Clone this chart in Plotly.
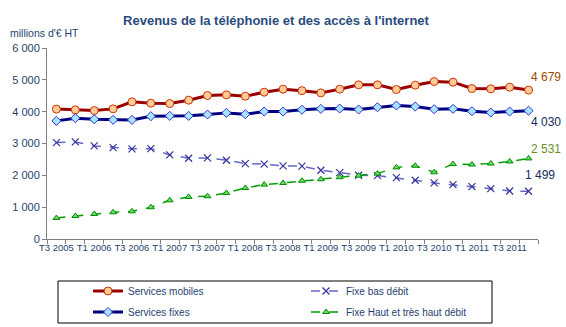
import plotly.graph_objects as go

quarters = ["T3 2005", "T4 2005", "T1 2006", "T2 2006", "T3 2006", "T4 2006",
            "T1 2007", "T2 2007", "T3 2007", "T4 2007", "T1 2008", "T2 2008",
            "T3 2008", "T4 2008", "T1 2009", "T2 2009", "T3 2009", "T4 2009",
            "T1 2010", "T2 2010", "T3 2010", "T4 2010", "T1 2011", "T2 2011",
            "T3 2011", "T4 2011"]

services_mobiles = [4080, 4057, 4035, 4088, 4308, 4266, 4255, 4361, 4507, 4528, 4486, 4612,
                    4706, 4660, 4591, 4706, 4843, 4843, 4696, 4832, 4947, 4926, 4727, 4717,
                    4769, 4679]
services_fixes = [3711, 3795, 3763, 3742, 3742, 3857, 3868, 3868, 3910, 3962, 3920, 4004,
                  4004, 4060, 4088, 4099, 4067, 4140, 4193, 4161, 4077, 4088, 4015, 3973,
                  4004, 4030]
fixe_bas_debit = [3029, 3050, 2925, 2872, 2830, 2841, 2642, 2537, 2547, 2475, 2370, 2350,
                  2295, 2290, 2160, 2086, 2002, 1991, 1928, 1845, 1761, 1708, 1645, 1582,
                  1509, 1499]
fixe_haut_debit = [660, 723, 786, 839, 870, 996, 1216, 1321, 1342, 1447, 1604, 1709,
                   1761, 1830, 1877, 1940, 1991, 2054, 2250, 2300, 2097, 2355, 2340, 2370,
                   2435, 2531]

end_labels = ["4 679", "4 030", "2 531", "1 499"]
y_ticks = [0, 1000, 2000, 3000, 4000, 5000, 6000]

xs = list(range(len(quarters)))
label_idx = xs[::2]
label_txt = [quarters[i] for i in label_idx]

TXT = "#1F3F6F"
FONT = "Liberation Sans, Arial, sans-serif"

W, H = 566, 327
ml, mr, mt, mb = 47, 28, 48, 88
pw, ph = W - ml - mr, H - mt - mb


def px_x(p):
    return (p - ml) / pw


def px_y(p):
    return (H - mb - p) / ph


fig = go.Figure()
fig.add_trace(go.Scatter(
    x=xs, y=services_mobiles, name="Services mobiles", mode="lines+markers", legend="legend",
    line=dict(color="#990000", width=3),
    marker=dict(symbol="circle", size=8, color="#FFCC99", line=dict(color="#CC3300", width=1))))
fig.add_trace(go.Scatter(
    x=xs, y=fixe_bas_debit, name="Fixe bas débit", mode="lines+markers", legend="legend2",
    line=dict(color="#6666CC", width=1.5, dash="dash"),
    marker=dict(symbol="x-thin-open", size=7, color="#333399", line=dict(color="#333399", width=1.2))))
fig.add_trace(go.Scatter(
    x=xs, y=services_fixes, name="Services fixes", mode="lines+markers", legend="legend3",
    line=dict(color="#000080", width=3),
    marker=dict(symbol="diamond", size=7, color="#A6E4FF", line=dict(color="#3333CC", width=1))))
fig.add_trace(go.Scatter(
    x=xs, y=fixe_haut_debit, name="Fixe Haut et très haut débit", mode="lines+markers", legend="legend4",
    line=dict(color="#00A000", width=1.5, dash="dash"),
    marker=dict(symbol="triangle-up", size=6, color="#66DD66", line=dict(color="#008800", width=1))))

last = xs[-1]
ann_specs = [
    (services_mobiles[-1], end_labels[0], "#994C00", 13, 0),
    (services_fixes[-1], end_labels[1], "#0F2D5A", -11, 0),
    (fixe_haut_debit[-1], end_labels[2], "#6B8E23", 9, 0),
    (fixe_bas_debit[-1], end_labels[3], "#0F2D5A", 16, -6),
]
annotations = []
for yv, txt, col, ysh, xsh in ann_specs:
    annotations.append(dict(x=last, y=yv, xref="x", yref="y", text=txt, showarrow=False,
                            xanchor="left", yanchor="middle", xshift=xsh, yshift=ysh,
                            font=dict(family=FONT, size=12, color=col)))
annotations.append(dict(x=px_x(8), y=px_y(33), xref="paper", yref="paper", text="millions d'€ HT",
                        showarrow=False, xanchor="left", yanchor="middle",
                        font=dict(family=FONT, size=10.5, color=TXT)))


def leg(xp, yp):
    return dict(x=xp / W, y=1 - yp / H, xref="container", yref="container",
                xanchor="left", yanchor="middle",
                orientation="v", font=dict(family=FONT, size=10, color=TXT),
                bgcolor="rgba(0,0,0,0)", borderwidth=0, itemwidth=30)


fig.update_layout(
    width=W, height=H,
    margin=dict(l=ml, r=mr, t=mt, b=mb, pad=0, autoexpand=False),
    paper_bgcolor="white", plot_bgcolor="white",
    separators=", ",
    font=dict(family=FONT, size=10.5, color=TXT),
    title=dict(text="<b>Revenus de la téléphonie et des accès à l'internet</b>",
               x=276 / W, xanchor="center", y=1 - 20 / H, yanchor="middle",
               font=dict(family=FONT, size=13, color="#2A4B7C")),
    showlegend=True,
    legend=leg(88, 291),
    legend2=leg(306, 291),
    legend3=leg(88, 312),
    legend4=leg(306, 312),
    annotations=annotations,
    shapes=[dict(type="rect", xref="paper", yref="paper",
                 x0=px_x(58), x1=px_x(492), y0=px_y(323), y1=px_y(281),
                 line=dict(color="black", width=1), fillcolor="rgba(0,0,0,0)")],
)
fig.update_xaxes(range=[-0.5, len(quarters) - 0.5], tickmode="array", tickvals=label_idx,
                 ticktext=label_txt, ticks="", tickangle=0, automargin=False,
                 showgrid=False, zeroline=False,
                 showline=True, linecolor="#808080", linewidth=1,
                 tickfont=dict(family=FONT, size=9.5, color=TXT),
                 minor=dict(tickmode="array", tickvals=[i - 0.5 for i in range(len(quarters) + 1)],
                            ticks="outside", ticklen=4, tickcolor="#808080", showgrid=False))
fig.update_yaxes(range=[0, 6000], tickmode="array", tickvals=y_ticks, tickformat=",d",
                 ticks="outside", ticklen=4, tickcolor="#808080", showgrid=False, automargin=False,
                 zeroline=False, showline=True, linecolor="#808080", linewidth=1,
                 tickfont=dict(family=FONT, size=11, color=TXT))

fig.write_html("out.html")
